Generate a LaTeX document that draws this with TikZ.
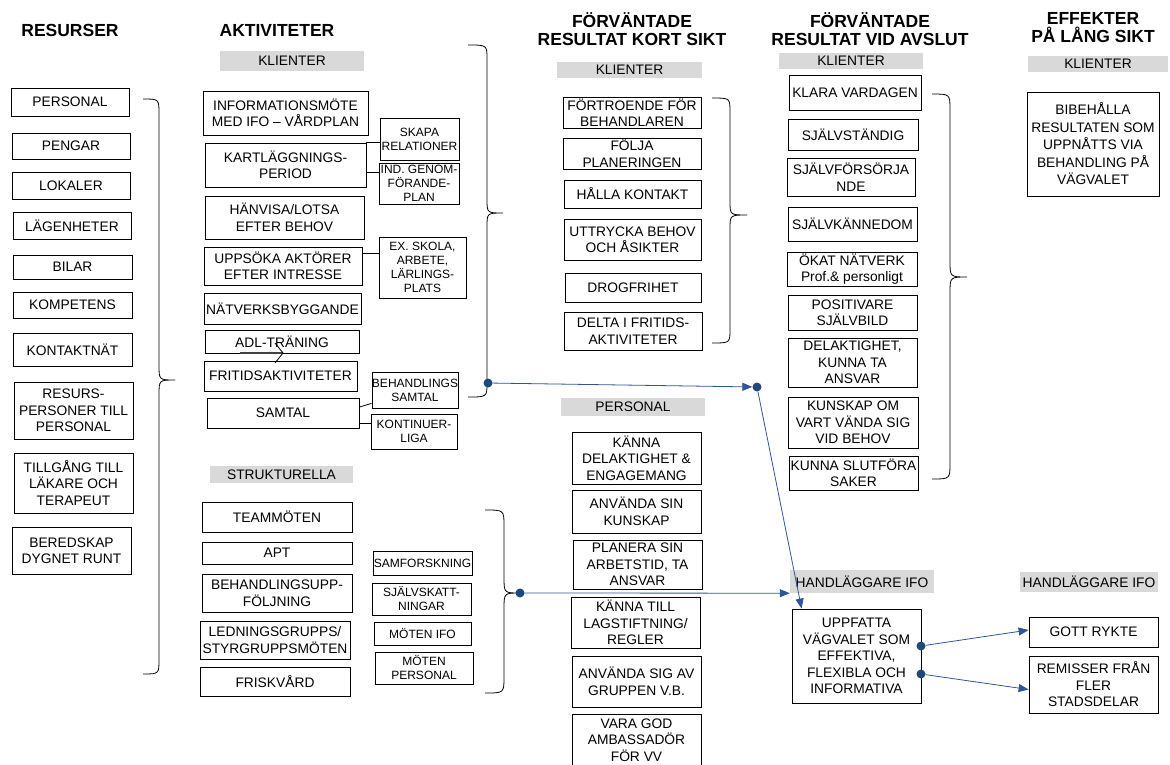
\documentclass[tikz,border=0pt]{standalone}
\usepackage{fontspec}
\setmainfont{Liberation Sans}
\usetikzlibrary{calc,arrows.meta}
\definecolor{lgray}{RGB}{217,217,217}
\definecolor{navy}{RGB}{31,73,125}
\definecolor{lblue}{RGB}{47,85,151}
\tikzset{
 box/.style={draw=black, line width=0.8pt, align=center, inner sep=0pt, font=\fontsize{13.8}{16.5}\selectfont},
 sbox/.style={box, font=\fontsize{12}{14}\selectfont},
 tag/.style={fill=lgray, inner sep=0pt, align=center, font=\fontsize{13.8}{16.5}\selectfont},
 ttl/.style={align=center, inner sep=0pt, font=\fontsize{17.5}{18}\selectfont\bfseries},
 brace/.style={draw=black, line width=0.8pt},
 conn/.style={draw=lblue, line width=0.8pt},
 tip/.style={-{Triangle[length=10pt,width=8pt]}},
 dot/.style={circle, fill=navy, inner sep=0pt, minimum size=9pt},
}
\newcommand\bx[7][box]{\node[#1, minimum width={(#5-#3)*1pt}, minimum height={(#6-#4)*1pt}] (#2) at ({(#3+#5)/2},{(#4+#6)/2}) {#7};}
\newcommand\brc[7]{\draw[brace] (#1,#2) .. controls (#3,#2) .. (#3,{#2+#7}) -- (#3,{#4-#7}) .. controls (#3,#4) .. (#5,#4) .. controls (#3,#4) .. (#3,{#4+#7}) -- (#3,{#6-#7}) .. controls (#3,#6) .. (#1,#6);}
\begin{document}
\begin{tikzpicture}[x=1pt,y=-1pt]
\useasboundingbox (0,0) rectangle (1170,764);
% titles
\node[ttl] (tR) at (70,30) {RESURSER};
\node[ttl] (tA) at (277,30) {AKTIVITETER};
\node[ttl] (tK) at (632,29) {FÖRVÄNTADE\\RESULTAT KORT SIKT};
\node[ttl] (tV) at (870,29) {FÖRVÄNTADE\\RESULTAT VID AVSLUT};
\node[ttl] (tE) at (1093,28) {EFFEKTER\\PÅ LÅNG SIKT};
% tags
\bx[tag]{g1}{220}{51}{364}{71}{KLIENTER}
\bx[tag]{g2}{210}{466}{353}{483}{STRUKTURELLA}
\bx[tag]{g3}{557}{62}{702}{78}{KLIENTER}
\bx[tag]{g4}{561}{398}{705}{416}{PERSONAL}
\bx[tag]{g5}{779}{53}{923}{69}{KLIENTER}
\bx[tag]{g6}{1028}{56}{1168}{72}{KLIENTER}
\bx[tag]{hand1}{790}{570}{934}{593}{HANDLÄGGARE IFO}
\bx[tag]{hand2}{1020}{572}{1158}{592}{HANDLÄGGARE IFO}
% resources
\bx{r1}{11}{88}{129}{116}{PERSONAL}
\bx{r2}{12}{133}{130}{159}{PENGAR}
\bx{r3}{12}{172}{130}{199}{LOKALER}
\bx{r4}{13}{212}{131}{239}{LÄGENHETER}
\bx{r5}{13}{255}{132}{279}{BILAR}
\bx{r6}{13}{292}{132}{318}{KOMPETENS}
\bx{r7}{13}{333}{132}{366}{KONTAKTNÄT}
\bx{r8}{14}{382}{133}{439}{RESURS-\\PERSONER TILL\\PERSONAL}
\bx{r9}{14}{453}{133}{513}{TILLGÅNG TILL\\LÄKARE OCH\\TERAPEUT}
\bx{r10}{12}{527}{131}{574}{BEREDSKAP\\DYGNET RUNT}
% activities
\bx{a1}{203}{91}{368}{135}{INFORMATIONSMÖTE\\MED IFO – VÅRDPLAN}
\bx{a2}{205}{143}{366}{187}{KARTLÄGGNINGS-\\PERIOD}
\bx{a3}{205}{196}{364}{239}{HÄNVISA/LOTSA\\EFTER BEHOV}
\bx{a4}{204}{247}{362}{285}{UPPSÖKA AKTÖRER\\EFTER INTRESSE}
\bx{a5}{204}{293}{361}{324}{NÄTVERKSBYGGANDE}
\bx{a6}{205}{330}{359}{353}{ADL-TRÄNING}
\bx{a7}{204}{361}{357}{391}{FRITIDSAKTIVITETER}
\bx{a8}{207}{398}{359}{428}{SAMTAL}
\bx[sbox]{s1}{380}{118}{459}{160}{SKAPA\\RELATIONER}
\bx[sbox]{s2}{379}{163}{459}{204}{IND. GENOM-\\FÖRANDE-\\PLAN}
\bx[sbox]{s3}{379}{237}{466}{298}{EX. SKOLA,\\ARBETE,\\LÄRLINGS-\\PLATS}
\bx[sbox]{s4}{372}{372}{458}{408}{BEHANDLINGS\\SAMTAL}
\bx[sbox]{s5}{371}{414}{457}{449}{KONTINUER-\\LIGA}
\draw[line width=0.8pt] (a2.north east) -- (a2.north east -| s1.west);
\draw[line width=0.8pt] ($(a2.east)+(0,7)$) coordinate (k2) -- (k2 -| s2.west);
\draw[line width=0.8pt] ($(a4.north east)+(0,7)$) coordinate (k4) -- (k4 -| s3.west);
\draw[line width=0.8pt] ($(a8.east)+(0,-6)$) -- ($(s4.south west)+(0,-5)$);
\draw[line width=0.8pt] ($(a8.east)+(0,10)$) coordinate (k8) -- (k8 -| s5.west);
% stray arrow at ADL
\coordinate (adlA) at (240,353);
\coordinate (adlB) at (283,353);
\draw[line width=1.6pt, draw=black!75] (adlA) -- (adlB);
\draw[line width=0.8pt] ($(adlB)+(-8,-10)$) -- (adlB) -- ($(adlB)+(-8,10)$);
% structural
\bx{t1}{202}{502}{352}{532}{TEAMMÖTEN}
\bx{t2}{202}{542}{352}{564}{APT}
\bx{t3}{202}{574}{352}{612}{BEHANDLINGSUPP-\\FÖLJNING}
\bx{t4}{200}{621}{350}{659}{LEDNINGSGRUPPS/\\STYRGRUPPSMÖTEN}
\bx{t5}{200}{667}{350}{696}{FRISKVÅRD}
\bx[sbox]{u1}{373}{551}{472}{575}{SAMFORSKNING}
\bx[sbox]{u2}{372}{583}{471}{615}{SJÄLVSKATT-\\NINGAR}
\bx[sbox]{u3}{374}{622}{471}{645}{MÖTEN IFO}
\bx[sbox]{u4}{375}{652}{473}{684}{MÖTEN\\PERSONAL}
% short term
\bx{k1}{563}{97}{701}{128}{FÖRTROENDE FÖR\\BEHANDLAREN}
\bx{kk2}{563}{138}{701}{169}{FÖLJA\\PLANERINGEN}
\bx{kk3}{564}{180}{701}{208}{HÅLLA KONTAKT}
\bx{kk4}{564}{219}{701}{260}{UTTRYCKA BEHOV\\OCH ÅSIKTER}
\bx{kk5}{565}{273}{701}{302}{DROGFRIHET}
\bx{kk6}{564}{312}{702}{350}{DELTA I FRITIDS-\\AKTIVITETER}
% personal
\bx{p1}{572}{432}{701}{484}{KÄNNA\\DELAKTIGHET \&\\ENGAGEMANG}
\bx{p2}{572}{490}{701}{533}{ANVÄNDA SIN\\KUNSKAP}
\bx{p3}{573}{540}{702}{589}{PLANERA SIN\\ARBETSTID, TA\\ANSVAR}
\bx{p4}{571}{597}{700}{648}{KÄNNA TILL\\LAGSTIFTNING/\\REGLER}
\bx{p5}{572}{656}{701}{707}{ANVÄNDA SIG AV\\GRUPPEN V.B.}
\bx{p6}{572}{714}{701}{766}{VARA GOD\\AMBASSADÖR\\FÖR VV}
% end results
\bx{e1}{789}{75}{921}{110}{KLARA VARDAGEN}
\bx{e2}{788}{119}{918}{150}{SJÄLVSTÄNDIG}
\bx{e3}{787}{158}{915}{196}{SJÄLVFÖRSÖRJA\\NDE}
\bx{e4}{788}{207}{917}{241}{SJÄLVKÄNNEDOM}
\bx{e5}{787}{252}{917}{286}{ÖKAT NÄTVERK\\Prof.\& personligt}
\bx{e6}{788}{295}{917}{330}{POSITIVARE\\SJÄLVBILD}
\bx{e7}{788}{338}{917}{387}{DELAKTIGHET,\\KUNNA TA\\ANSVAR}
\bx{e8}{788}{397}{918}{448}{KUNSKAP OM\\VART VÄNDA SIG\\VID BEHOV}
\bx{e9}{789}{456}{918}{490}{KUNNA SLUTFÖRA\\SAKER}
% long term
\bx[box,font=\fontsize{13.8}{17.5}\selectfont]{l1}{1027}{92}{1159}{196}{BIBEHÅLLA\\RESULTATEN SOM\\UPPNÅTTS VIA\\BEHANDLING PÅ\\VÄGVALET}
% IFO
\bx{h1}{792}{609}{921}{703}{UPPFATTA\\VÄGVALET SOM\\EFFEKTIVA,\\FLEXIBLA OCH\\INFORMATIVA}
\bx{h2}{1029}{617}{1158}{647}{GOTT RYKTE}
\bx{h3}{1029}{656}{1158}{713}{REMISSER FRÅN\\FLER\\STADSDELAR}
% braces
\brc{143}{99}{159}{380}{175}{674}{15}
\brc{468}{45}{487}{213}{503}{397}{14}
\brc{712}{98}{730}{215}{747}{343}{14}
\brc{932}{94}{950}{277}{967}{479}{16}
\brc{485}{510}{504}{593}{520}{693}{16}
% connectors
\node[dot] (d1) at (488,383) {};
\node[dot] (d2) at (757,387) {};
\node[dot] (d3) at (520,593) {};
\node[dot] (d4) at (921,646) {};
\node[dot] (d5) at (921,674) {};
\draw[conn,tip] (d1) -- (d2);
\draw[conn,tip] (d2) -- ($(h1.north west)+(10,0)$);
\draw[conn,tip] (d3) -- (hand1.south west);
\draw[conn,tip] (d4) -- ($(h2.west)+(0,-2)$);
\draw[conn,tip] (d5) -- ($(h3.west)+(0,5)$);
\end{tikzpicture}
\end{document}
